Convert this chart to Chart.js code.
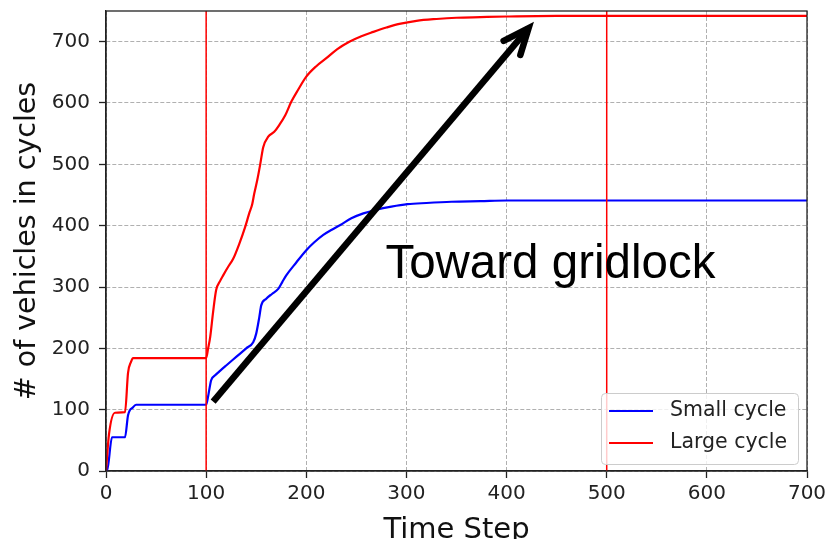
<!DOCTYPE html>
<html>
<head>
<meta charset="utf-8">
<script src="https://cdn.jsdelivr.net/npm/chart.js@4.4.1/dist/chart.umd.min.js"></script>
<style>
  html, body { margin: 0; padding: 0; background: #fff; }
  #wrap { width: 827px; height: 539px; }
</style>
</head>
<body>
<div id="wrap"><canvas id="chart" width="827" height="539"></canvas></div>
<script>
// values
const smallSteps = [0, 1, 6, 19, 22, 27, 30, 100, 102, 105, 109, 113, 120, 130, 140, 147, 150, 153, 155, 160, 166, 172, 176, 180, 190, 200, 208, 217, 225, 234, 245, 257, 270, 285, 301, 320, 345, 374, 400, 450, 500, 600, 700];
const smallCount = [0, 0, 55, 55, 91, 104, 108, 108, 122, 148, 156, 162, 172, 186, 200, 210, 224, 250, 270, 281, 289, 297, 308, 319, 340, 360, 373, 385, 393, 401, 412, 420, 426, 431, 435, 437, 439, 440, 441, 441, 441, 441, 441];

const largeSteps = [0, 3, 9, 19, 22, 25, 27, 100, 102, 104, 107, 110, 114, 117, 122, 127, 133, 139, 143, 146, 148, 151, 154, 157, 162, 168, 173, 179, 185, 192, 200, 210, 220, 231, 243, 255, 267, 280, 293, 310, 330, 350, 374, 400, 450, 500, 600, 700];
const largeCount = [0, 60, 95, 96, 160, 178, 184, 184, 200, 218, 260, 295, 310, 319, 333, 346, 370, 398, 420, 435, 452, 474, 500, 528, 545, 553, 564, 580, 602, 622, 643, 660, 673, 688, 700, 709, 716, 723, 729, 734, 737, 739, 740, 741, 742, 742, 742, 742];

const markerSteps = [100, 500];
const xTickValues = [0, 100, 200, 300, 400, 500, 600, 700];
const yTickValues = [0, 100, 200, 300, 400, 500, 600, 700];
const yMax = 750;

// hand-drawn annotation: arrow and note
const arrowSteps = [107, 422];
const arrowCount = [113, 722];
const noteText = 'Toward gridlock';
const noteStep = 279;
const noteCount = 315;

const toPoints = (xs, ys) => xs.map((x, i) => ({ x, y: ys[i] }));

const frame = {
  id: 'frame',
  afterDatasetsDraw(chart) {
    const { ctx, chartArea: a } = chart;
    ctx.save();
    ctx.strokeStyle = '#222';
    ctx.lineWidth = 1.3;
    ctx.strokeRect(a.left, a.top, a.right - a.left, a.bottom - a.top);
    ctx.restore();
  }
};

const boxLegend = {
  id: 'boxLegend',
  afterDatasetsDraw(chart) {
    const { ctx, chartArea: a } = chart;
    const items = chart.data.datasets.filter(d => d.inLegend);
    const w = 197, h = 71;
    const x = a.right - 9 - w;
    const y = a.bottom - 7 - h;
    ctx.save();
    ctx.fillStyle = 'rgba(255,255,255,0.8)';
    ctx.strokeStyle = '#cccccc';
    ctx.lineWidth = 1;
    ctx.beginPath();
    ctx.roundRect(x + 0.5, y + 0.5, w, h, 4);
    ctx.fill();
    ctx.stroke();
    ctx.font = '20.5px "DejaVu Sans"';
    ctx.textBaseline = 'middle';
    items.forEach((d, i) => {
      const ly = y + 18 + i * 32;
      ctx.strokeStyle = d.borderColor;
      ctx.lineWidth = 2;
      ctx.beginPath();
      ctx.moveTo(x + 8, ly);
      ctx.lineTo(x + 52, ly);
      ctx.stroke();
      ctx.fillStyle = '#222';
      ctx.fillText(d.label, x + 69, ly);
    });
    ctx.restore();
  }
};

const annotation = {
  id: 'annotation',
  afterDraw(chart) {
    const { ctx, scales: { x, y } } = chart;
    // arrow head at the end of the arrow line
    const x0 = x.getPixelForValue(arrowSteps[0]), y0 = y.getPixelForValue(arrowCount[0]);
    const x1 = x.getPixelForValue(arrowSteps[1]), y1 = y.getPixelForValue(arrowCount[1]);
    const ang = Math.atan2(y0 - y1, x0 - x1);
    const spread = 23 * Math.PI / 180, len = 28;
    ctx.save();
    ctx.strokeStyle = '#000';
    ctx.lineWidth = 6.5;
    ctx.lineCap = 'round';
    ctx.lineJoin = 'miter';
    ctx.beginPath();
    ctx.moveTo(x1 + len * Math.cos(ang + spread), y1 + len * Math.sin(ang + spread));
    ctx.lineTo(x1, y1);
    ctx.lineTo(x1 + len * Math.cos(ang - spread), y1 + len * Math.sin(ang - spread));
    ctx.stroke();

    // note text
    ctx.font = '48px "Liberation Sans", Arial, sans-serif';
    ctx.fillStyle = '#000';
    ctx.textBaseline = 'alphabetic';
    const tw = ctx.measureText(noteText).width;
    ctx.translate(x.getPixelForValue(noteStep), y.getPixelForValue(noteCount));
    ctx.scale(330 / tw, 1);
    ctx.fillText(noteText, 0, 0);
    ctx.restore();
  }
};

const gridDash = [4, 2];

new Chart(document.getElementById('chart'), {
  type: 'line',
  data: {
    datasets: [
      {
        label: 'arrow',
        data: toPoints(arrowSteps, arrowCount),
        borderColor: '#000',
        borderWidth: 6.5,
        pointRadius: 0,
        order: 0
      },
      ...markerSteps.map(s => ({
        label: 'marker',
        data: [{ x: s, y: 0 }, { x: s, y: yMax }],
        borderColor: '#ff0000',
        borderWidth: 1.5,
        pointRadius: 0,
        order: 1
      })),
      {
        label: 'Small cycle',
        inLegend: true,
        data: toPoints(smallSteps, smallCount),
        borderColor: '#0000ff',
        borderWidth: 2.2,
        pointRadius: 0,
        cubicInterpolationMode: 'monotone',
        order: 3
      },
      {
        label: 'Large cycle',
        inLegend: true,
        data: toPoints(largeSteps, largeCount),
        borderColor: '#ff0000',
        borderWidth: 2.2,
        pointRadius: 0,
        cubicInterpolationMode: 'monotone',
        order: 2
      }
    ]
  },
  options: {
    responsive: false,
    animation: false,
    devicePixelRatio: 1,
    layout: { padding: { top: 11, right: 20, left: 0, bottom: 0 } },
    plugins: {
      legend: { display: false },
      tooltip: { enabled: false }
    },
    scales: {
      x: {
        type: 'linear',
        min: 0,
        max: 700,
        afterBuildTicks(scale) { scale.ticks = xTickValues.map(v => ({ value: v })); },
        afterFit(scale) {
          scale.height = 68;
          scale.paddingLeft = 0;
          scale.paddingRight = 0;
        },
        ticks: {
          color: '#222',
          padding: 4,
          maxRotation: 0,
          font: { family: 'DejaVu Sans', size: 20, lineHeight: 1.2 }
        },
        grid: {
          color: '#b0b0b0',
          lineWidth: 1,
          borderDash: gridDash,
          tickColor: '#222',
          tickLength: 7,
          tickWidth: 1.3,
          tickBorderDash: []
        },
        border: { color: '#222', width: 1.3, dash: gridDash },
        title: {
          display: true,
          text: 'Time Step',
          color: '#111',
          padding: 0,
          font: { family: 'DejaVu Sans', size: 29, lineHeight: 0.62 }
        }
      },
      y: {
        min: 0,
        max: yMax,
        afterBuildTicks(scale) { scale.ticks = yTickValues.map(v => ({ value: v })); },
        afterFit(scale) {
          scale.width = 106;
          scale.paddingTop = 0;
          scale.paddingBottom = 0;
        },
        ticks: {
          color: '#222',
          padding: 9,
          font: { family: 'DejaVu Sans', size: 20, lineHeight: 1.0 }
        },
        grid: {
          color: '#b0b0b0',
          lineWidth: 1,
          borderDash: gridDash,
          tickColor: '#222',
          tickLength: 7,
          tickWidth: 1.3,
          tickBorderDash: []
        },
        border: { color: '#222', width: 1.3, dash: gridDash },
        title: {
          display: true,
          text: '# of vehicles in cycles',
          color: '#111',
          padding: { top: 10, bottom: 0 },
          font: { family: 'DejaVu Sans', size: 28.5, lineHeight: 1.2 }
        }
      }
    }
  },
  plugins: [frame, boxLegend, annotation]
});
</script>
</body>
</html>
